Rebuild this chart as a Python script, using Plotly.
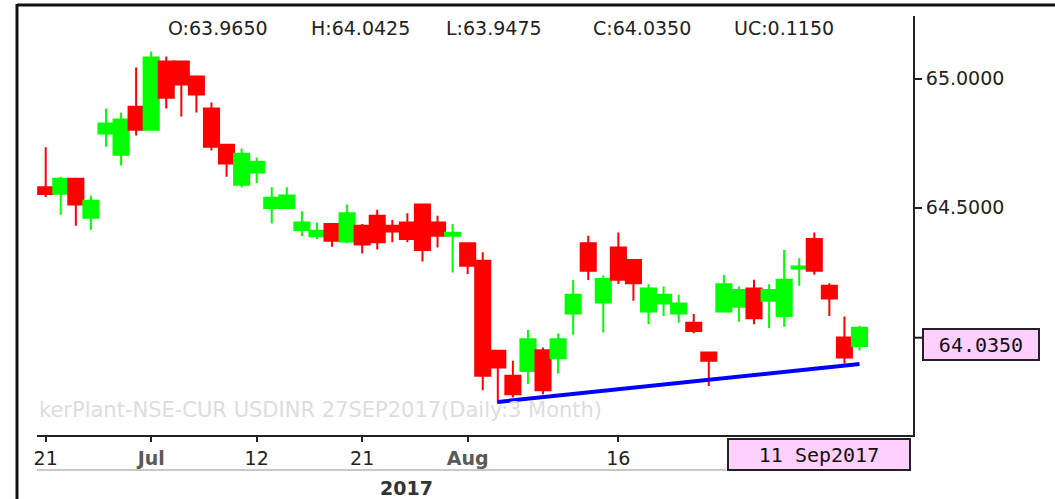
import plotly.graph_objects as go

# ---- data ----
dates = [
    "2017-06-21", "2017-06-22", "2017-06-23", "2017-06-27", "2017-06-28", "2017-06-29", "2017-06-30",
    "2017-07-03", "2017-07-04", "2017-07-05", "2017-07-06", "2017-07-07", "2017-07-10", "2017-07-11",
    "2017-07-12", "2017-07-13", "2017-07-14", "2017-07-17", "2017-07-18", "2017-07-19", "2017-07-20",
    "2017-07-21", "2017-07-24", "2017-07-25", "2017-07-26", "2017-07-27", "2017-07-28", "2017-07-31",
    "2017-08-01", "2017-08-02", "2017-08-03", "2017-08-04", "2017-08-07", "2017-08-08", "2017-08-09",
    "2017-08-10", "2017-08-11", "2017-08-14", "2017-08-16", "2017-08-18", "2017-08-21", "2017-08-22",
    "2017-08-23", "2017-08-24", "2017-08-28", "2017-08-29", "2017-08-30", "2017-08-31", "2017-09-01",
    "2017-09-04", "2017-09-05", "2017-09-06", "2017-09-07", "2017-09-08", "2017-09-11",
]
opens = [
    64.579, 64.554, 64.612, 64.461, 64.787, 64.705, 64.891,
    64.802, 65.066, 65.066, 65.008, 64.884, 64.744, 64.589,
    64.636, 64.499, 64.499, 64.414, 64.389, 64.437, 64.369,
    64.430, 64.469, 64.430, 64.443, 64.512, 64.443, 64.391,
    64.362, 64.295, 63.946, 63.849, 63.868, 63.948, 63.917,
    64.090, 64.362, 64.133, 64.346, 64.297, 64.098, 64.129,
    64.090, 64.055, 63.939, 64.098, 64.116, 64.187, 64.140,
    64.081, 64.265, 64.379, 64.198, 63.997, 63.965,
]
highs = [
    64.734, 64.620, 64.614, 64.547, 64.884, 64.868, 65.043,
    65.105, 65.085, 65.068, 65.010, 64.907, 64.746, 64.729,
    64.694, 64.579, 64.579, 64.486, 64.443, 64.439, 64.512,
    64.437, 64.492, 64.452, 64.478, 64.514, 64.469, 64.437,
    64.364, 64.327, 63.948, 63.907, 64.026, 63.959, 64.013,
    64.220, 64.391, 64.237, 64.404, 64.299, 64.204, 64.195,
    64.163, 64.088, 63.941, 64.239, 64.195, 64.221, 64.204,
    64.336, 64.304, 64.404, 64.207, 64.079, 64.0425,
]
lows = [
    64.540, 64.473, 64.430, 64.415, 64.736, 64.663, 64.779,
    64.800, 64.884, 64.853, 64.868, 64.721, 64.620, 64.578,
    64.595, 64.439, 64.497, 64.389, 64.379, 64.349, 64.362,
    64.323, 64.338, 64.366, 64.366, 64.292, 64.346, 64.249,
    64.243, 63.793, 63.741, 63.765, 63.817, 63.778, 63.858,
    64.008, 64.220, 64.017, 64.205, 64.140, 64.049, 64.081,
    64.055, 64.014, 63.810, 64.096, 64.058, 64.049, 64.034,
    64.039, 64.198, 64.240, 64.081, 63.897, 63.9475,
]
closes = [
    64.553, 64.612, 64.512, 64.527, 64.826, 64.841, 64.802,
    65.081, 64.926, 64.977, 64.938, 64.736, 64.671, 64.709,
    64.678, 64.538, 64.547, 64.443, 64.411, 64.372, 64.478,
    64.357, 64.366, 64.408, 64.379, 64.336, 64.391, 64.403,
    64.275, 63.849, 63.881, 63.778, 63.991, 63.793, 63.991,
    64.163, 64.256, 64.224, 64.221, 64.207, 64.187, 64.163,
    64.129, 64.023, 63.907, 64.204, 64.181, 64.072, 64.181,
    64.221, 64.272, 64.256, 64.148, 63.920, 64.035,
]
trend_dates = ["2017-08-03", "2017-09-11"]
trend_values = [63.748, 63.895]

x_tick_dates = ["2017-06-21", "2017-07-03", "2017-07-12", "2017-07-21", "2017-08-01", "2017-08-16"]
x_tick_labels = ["21", "<b><span style='color:#5a5a5a'>Jul</span></b>", "12", "21",
                 "<b><span style='color:#5a5a5a'>Aug</span></b>", "16"]
y_tick_values = [64.5, 65.0]
year_label = "2017"
date_label = "11 Sep2017"
watermark = "kerPlant-NSE-CUR USDINR 27SEP2017(Daily:3 Month)"

# ---- figure ----
W, H = 1055, 499
ML, MR, MT, MB = 37, 142, 16, 64
PW, PH = W - ML - MR, H - MT - MB


def px(x):
    return (x - ML) / PW


def py(y):
    return (H - MB - y) / PH


fig = go.Figure()
fig.add_trace(go.Candlestick(
    x=dates, open=opens, high=highs, low=lows, close=closes,
    increasing=dict(line=dict(color="#00FF00", width=2), fillcolor="#00FF00"),
    decreasing=dict(line=dict(color="#FF0000", width=2), fillcolor="#FF0000"),
    whiskerwidth=0, showlegend=False, hoverinfo="skip",
))
fig.add_trace(go.Scatter(
    x=trend_dates, y=trend_values, mode="lines",
    line=dict(color="#0000FF", width=4), showlegend=False, hoverinfo="skip",
))

font_main = "DejaVu Sans"
last = len(closes) - 1
hdr = [
    ("O:%.4f" % opens[last], 218),
    ("H:%.4f" % highs[last], 360),
    ("L:%.4f" % lows[last], 494),
    ("C:%.4f" % closes[last], 642),
    ("UC:%.4f" % (closes[last] - closes[last - 1]), 784),
]
annotations = []
for txt, cx in hdr:
    annotations.append(dict(
        text=txt, x=px(cx), y=py(28), xref="paper", yref="paper",
        xanchor="center", yanchor="middle", showarrow=False,
        font=dict(family=font_main, size=19, color="#222222"),
    ))
annotations.append(dict(
    text=watermark, x=px(37), y=py(410), xref="paper", yref="paper",
    xanchor="left", yanchor="middle", showarrow=False,
    font=dict(family=font_main, size=21, color="#DDDDDD"),
))
annotations.append(dict(
    text="<b>%s</b>" % year_label, x=px(406), y=py(488), xref="paper", yref="paper",
    xanchor="center", yanchor="middle", showarrow=False,
    font=dict(family=font_main, size=19, color="#333333"),
))
annotations.append(dict(
    text=date_label, x=px(818.5), y=py(454.5), xref="paper", yref="paper",
    xanchor="center", yanchor="middle", showarrow=False,
    width=180, height=29, borderpad=0, borderwidth=2, bordercolor="#222222",
    bgcolor="#FFD0FF",
    font=dict(family="DejaVu Sans Mono", size=20, color="#111111"),
))
annotations.append(dict(
    text="%.4f" % closes[last], x=px(981), y=py(344.5), xref="paper", yref="paper",
    xanchor="center", yanchor="middle", showarrow=False,
    width=114, height=29, borderpad=0, borderwidth=2, bordercolor="#222222",
    bgcolor="#FFD0FF",
    font=dict(family="DejaVu Sans Mono", size=20, color="#111111"),
))

shapes = [
    # outer frame (top and left)
    dict(type="line", xref="paper", yref="paper", x0=px(17), x1=px(1056), y0=py(5), y1=py(5),
         line=dict(color="#111111", width=3)),
    dict(type="line", xref="paper", yref="paper", x0=px(17), x1=px(17), y0=py(4), y1=py(500),
         line=dict(color="#111111", width=3)),
    # grey separator under date labels
    dict(type="line", xref="paper", yref="paper", x0=px(37), x1=px(726), y0=py(470), y1=py(470),
         line=dict(color="#C8C8C8", width=2)),
    # tick for price label
    dict(type="line", xref="paper", yref="paper", x0=px(913), x1=px(922), y0=py(337.7), y1=py(337.7),
         line=dict(color="#222222", width=2)),
]

fig.update_layout(
    width=W, height=H,
    margin=dict(l=ML, r=MR, t=MT, b=MB, pad=0),
    paper_bgcolor="white", plot_bgcolor="white",
    boxgap=0.0, boxgroupgap=0.0,
    showlegend=False,
    annotations=annotations,
    shapes=shapes,
    xaxis=dict(
        type="category", categoryorder="array", categoryarray=dates,
        range=[-0.577, 57.55],
        tickvals=x_tick_dates, ticktext=x_tick_labels, tickangle=0,
        ticks="outside", ticklen=5, tickwidth=2, tickcolor="#222222",
        showline=True, linecolor="#222222", linewidth=2,
        showgrid=False, zeroline=False,
        rangeslider=dict(visible=False),
        tickfont=dict(family=font_main, size=19, color="#222222"),
    ),
    yaxis=dict(
        side="right", range=[63.620, 65.242],
        tickvals=y_tick_values, tickformat=".4f",
        ticks="outside", ticklen=7, tickwidth=2, tickcolor="#222222",
        showline=True, linecolor="#222222", linewidth=2,
        showgrid=False, zeroline=False,
        tickfont=dict(family=font_main, size=19, color="#222222"),
    ),
)

fig.write_html(
    "out.html",
    config={"displayModeBar": False},
    post_script="document.body.style.margin='0';document.body.style.overflow='hidden';",
)
